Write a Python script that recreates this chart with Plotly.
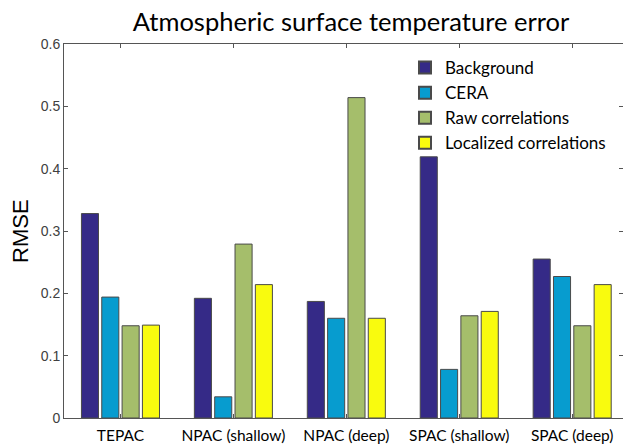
import plotly.graph_objects as go

categories = ["TEPAC", "NPAC (shallow)", "NPAC (deep)", "SPAC (shallow)", "SPAC (deep)"]
series_names = ["Background", "CERA", "Raw correlations", "Localized correlations"]
background = [0.328, 0.192, 0.187, 0.419, 0.255]
cera = [0.194, 0.034, 0.160, 0.078, 0.227]
raw_corr = [0.148, 0.279, 0.514, 0.164, 0.148]
localized_corr = [0.149, 0.214, 0.160, 0.171, 0.214]
colors = ["#352A87", "#079CCF", "#A5BE6B", "#F9FB0E"]
y_ticks = [0, 0.1, 0.2, 0.3, 0.4, 0.5, 0.6]
y_tick_labels = ["0", "0.1", "0.2", "0.3", "0.4", "0.5", "0.6"]

W, H = 623, 444
L, R, T, B = 64, 0, 44, 26

fig = go.Figure()
xs = list(range(1, len(categories) + 1))
for name, vals, col in zip(series_names, [background, cera, raw_corr, localized_corr], colors):
    fig.add_trace(go.Bar(
        x=xs, y=vals, name=name,
        marker=dict(color=col, line=dict(color="#4a4a4a", width=1)),
    ))

pw = W - L - R
ph = H - T - B

fig.update_layout(
    width=W, height=H,
    margin=dict(l=L, r=R, t=T, b=B, pad=0),
    paper_bgcolor="white", plot_bgcolor="white",
    barmode="group", bargap=0.28, bargroupgap=0.16,
    showlegend=True,
    legend=dict(
        x=(405 - L) / pw, y=(H - B - 50) / ph, xanchor="left", yanchor="top",
        font=dict(family="Lato", size=17, color="black"),
        bgcolor="rgba(255,255,255,0)", borderwidth=0,
        tracegroupgap=0, itemsizing="constant", itemwidth=30,
    ),
    title=dict(
        text="Atmospheric surface temperature error",
        x=351 / W, xref="container", xanchor="center",
        y=1 - 22 / H, yref="container", yanchor="middle",
        font=dict(family="Lato", size=25.5, color="black"),
    ),
    xaxis=dict(
        range=[0.5, 5.45], tickvals=xs, ticktext=categories,
        ticks="inside", ticklen=4, tickcolor="#555555",
        showline=True, linecolor="#555555", linewidth=1, mirror="ticks",
        showgrid=False, zeroline=False, ticklabelstandoff=3,
        tickfont=dict(family="Lato", size=15.5, color="black"),
    ),
    yaxis=dict(
        range=[0, 0.6], tickvals=y_ticks, ticktext=y_tick_labels,
        ticks="inside", ticklen=4, tickcolor="#555555",
        showline=True, linecolor="#555555", linewidth=1, mirror="ticks",
        showgrid=False, zeroline=False,
        tickfont=dict(family="Liberation Sans", size=14, color="#404040"),
    ),
    annotations=[dict(
        text="RMSE", xref="paper", yref="paper",
        x=(20 - L) / pw, y=0.5, xanchor="center", yanchor="middle",
        textangle=-90, showarrow=False,
        font=dict(family="Liberation Sans", size=22, color="black"),
    )],
)

fig.write_html(
    "out.html",
    config={"displayModeBar": False},
    post_script="document.body.style.margin='0';document.body.style.padding='0';",
)
